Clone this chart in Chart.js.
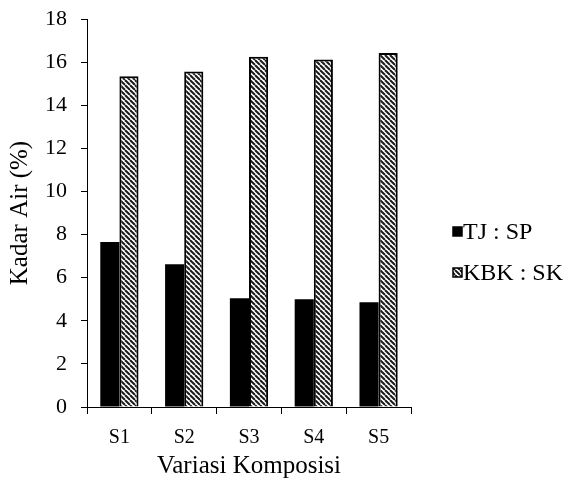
<!DOCTYPE html>
<html>
<head>
<meta charset="utf-8">
<script src="https://cdn.jsdelivr.net/npm/chart.js@4/dist/chart.umd.min.js"></script>
<style>
  html, body { margin: 0; padding: 0; background: #fff; }
  #wrap { width: 571px; height: 481px; }
</style>
</head>
<body>
<div id="wrap"><canvas id="c" width="571" height="481"></canvas></div>
<script>
const categories = ['S1', 'S2', 'S3', 'S4', 'S5'];
const seriesNames = ['TJ : SP', 'KBK : SK'];
const tjSp = [7.65, 6.62, 5.04, 5.0, 4.86];
const kbkSk = [15.34, 15.57, 16.25, 16.12, 16.42];
const yTicks = [0, 2, 4, 6, 8, 10, 12, 14, 16, 18];
const xTitle = 'Variasi Komposisi';
const yTitle = 'Kadar Air (%)';

const FONT = '"Liberation Serif", "Times New Roman", serif';

function makeHatch() {
  const s = 5;
  const cv = document.createElement('canvas');
  cv.width = s; cv.height = s;
  const g = cv.getContext('2d');
  g.fillStyle = '#ffffff';
  g.fillRect(0, 0, s, s);
  g.strokeStyle = '#1a1a1a';
  g.lineWidth = 2;
  for (const k of [-s, 0, s]) {
    g.beginPath();
    g.moveTo(k, 0);
    g.lineTo(k + s, s);
    g.stroke();
  }
  return document.getElementById('c').getContext('2d').createPattern(cv, 'repeat');
}
const hatch = makeHatch();

const legendPlugin = {
  id: 'sideLegend',
  afterDraw(chart) {
    const ctx = chart.ctx;
    const items = [
      { y: 232, ds: chart.data.datasets[0] },
      { y: 273, ds: chart.data.datasets[1] }
    ];
    ctx.save();
    ctx.font = '24px ' + FONT;
    ctx.textBaseline = 'middle';
    items.forEach(it => {
      const bx = 453, by = it.y - 5, bs = 9;
      ctx.fillStyle = it.ds.backgroundColor;
      ctx.fillRect(bx, by, bs, bs);
      ctx.strokeStyle = '#000';
      ctx.lineWidth = 1.5;
      ctx.strokeRect(bx, by, bs, bs);
      ctx.fillStyle = '#000';
      ctx.fillText(it.ds.label, 463, it.y + 1);
    });
    ctx.restore();
  }
};

new Chart(document.getElementById('c'), {
  type: 'bar',
  data: {
    labels: categories,
    datasets: [
      { label: seriesNames[0], data: tjSp, backgroundColor: '#000000', borderColor: '#000000', borderWidth: 0 },
      { label: seriesNames[1], data: kbkSk, backgroundColor: hatch, borderColor: '#000000', borderWidth: 2 }
    ]
  },
  options: {
    responsive: false,
    animation: false,
    devicePixelRatio: 1,
    layout: { padding: { left: 4, right: 160, top: 19, bottom: 0 } },
    plugins: { legend: { display: false }, tooltip: { enabled: false } },
    datasets: { bar: { categoryPercentage: 0.59, barPercentage: 1.0 } },
    scales: {
      x: {
        offset: true,
        grid: { offset: true, drawOnChartArea: false, tickLength: 7, tickColor: '#000', color: '#000' },
        border: { color: '#000', width: 1 },
        ticks: { color: '#000', font: { family: FONT, size: 20 }, padding: 12 },
        title: { display: true, text: xTitle, color: '#000', font: { family: FONT, size: 25 }, padding: { top: 2, bottom: 0 } },
        afterFit(scale) { scale.height = 481 - 407; scale.paddingLeft = 0; scale.paddingRight = 0; }
      },
      y: {
        min: 0, max: 18,
        afterBuildTicks(scale) { scale.ticks = yTicks.map(v => ({ value: v })); },
        grid: { drawOnChartArea: false, tickLength: 6, tickColor: '#000', color: '#000' },
        border: { color: '#000', width: 1 },
        ticks: { color: '#000', font: { family: FONT, size: 22 }, padding: 14 },
        title: { display: true, text: yTitle, color: '#000', font: { family: FONT, size: 25 }, padding: { top: 1, bottom: 0 } },
        afterFit(scale) { scale.width = 87 - 4; scale.paddingTop = 0; scale.paddingBottom = 0; }
      }
    }
  },
  plugins: [legendPlugin]
});
</script>
</body>
</html>
